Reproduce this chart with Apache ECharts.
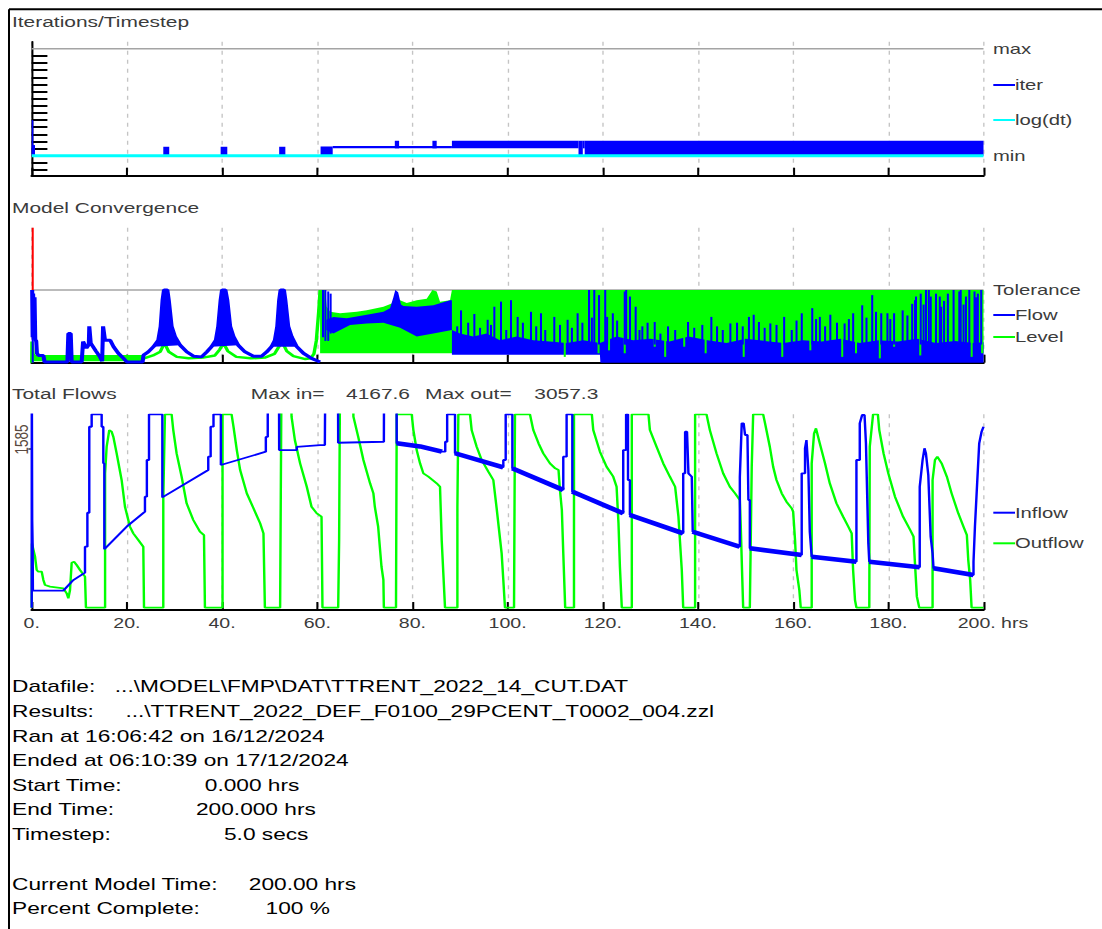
<!DOCTYPE html>
<html><head><meta charset="utf-8">
<script src="https://cdn.jsdelivr.net/npm/echarts@6.0.0/dist/echarts.min.js"></script>
<style>
html,body{margin:0;padding:0;background:#fff;overflow:hidden;width:1102px;height:929px}
#chart{width:816px;height:929px;transform:scaleX(1.3504902);transform-origin:0 0}
</style></head><body><div id="chart"></div><script>
// ---------------- data ----------------
const panelTitles = ['Iterations/Timestep', 'Model Convergence', 'Total Flows'];
const hoursRange = [0, 200, 20];
const iterLimits = [0, 15];                // min, max
const iterTicks = [-2,-1,0,1,2,3,4,5,6,7,8,9,10,11,12,13,14];
const logDt = [[0, 0], [200, 0]];
// [tStart, tEnd, low, high]
const iterBlocks = [
  [0, 0.3, 0, 5.0], [0, 0.7, 0, 1.5],
  [27.65, 28.9, 0, 1.26], [39.7, 41.1, 0, 1.26], [52.0, 53.3, 0, 1.26],
  [60.7, 63.25, 0, 1.3], [63.25, 88.3, 1.04, 1.36],
  [76.3, 77.2, 1.04, 2.1], [84.2, 85.1, 1.04, 2.1],
  [88.3, 114.9, 1.04, 2.1], [114.9, 115.8, 0, 2.1], [115.8, 116.2, 1.04, 2.1], [116.2, 200, 0, 2.1]
];

const tolerance = 1;
const flowEarly = [[0.1,1.0],[0.2,0.35],[0.3,0.95],[0.45,0.32],[0.6,0.9],[0.75,0.31],[0.95,0.3],[1.1,0.13],[1.4,0.1],[2.45,0.1],[2.7,0.01],[7.5,0.01],[7.7,0.4],[8.2,0.4],[8.4,0.01],[10.5,0.01],[10.8,0.29],[11.5,0.2],[12.0,0.25],[12.1,0.5],[12.4,0.27],[13.5,0.16],[14.35,0.08],[14.8,0.02],[15.0,0.5],[15.4,0.31],[16.5,0.31],[17.2,0.22],[18.2,0.13],[19.3,0.06],[20.0,0.01],[23.3,0.01],[23.5,0.105],[24.5,0.15],[25.6,0.22],[26.6,0.31],[27.1,0.5],[27.5,0.86],[27.8,1.0],[28.5,1.0],[28.8,0.86],[29.4,0.5],[30.1,0.36],[31.2,0.24],[32.6,0.15],[34.0,0.09],[35.7,0.08],[36.8,0.15],[37.8,0.22],[38.7,0.31],[39.2,0.5],[39.7,0.86],[40.0,1.0],[40.7,1.0],[41.1,0.86],[41.7,0.5],[42.4,0.36],[43.4,0.24],[44.8,0.15],[46.6,0.09],[48.3,0.09],[49.4,0.15],[50.4,0.22],[51.1,0.31],[51.6,0.5],[52.0,0.86],[52.3,1.0],[53.0,1.0],[53.3,0.86],[53.9,0.5],[54.6,0.36],[55.7,0.22],[57.1,0.13],[58.8,0.06],[60.6,0.01]];
const flowPeakSpans = [[25.6, 31.2], [37.8, 43.4], [50.4, 55.7]];
const levelEarly = [[0,0],[0.05,0.29],[0.3,0.12],[0.6,0.08],[7.2,0.06],[7.8,0.1],[8.4,0.05],[23.6,0.06],[25.5,0.1],[27.0,0.15],[27.9,0.27],[28.8,0.15],[30.5,0.08],[33,0.06],[36,0.07],[38.5,0.1],[39.5,0.18],[40.3,0.27],[41.2,0.16],[43,0.08],[46,0.06],[49,0.07],[51,0.12],[52.6,0.29],[53.6,0.16],[55,0.09],[57.5,0.05],[58.6,0.06],[59.3,0.12],[59.8,0.3],[60.3,0.7],[60.6,1.0]];
const levelBlocks = [[0.3, 23.6, 0.02, 0.105]];
const levelTop = [[60.6,1.0],[61.7,1.0],[62.0,0.77],[62.7,0.70],[64.8,0.68],[68.3,0.70],[70.4,0.72],[73.9,0.77],[77.4,0.86],[78.8,0.82],[80.9,0.86],[83.0,0.88],[84.2,1.0],[85.1,0.98],[85.8,0.84],[87.9,0.86],[88.3,1.0],[200,1.0]];
const levelBottom = [[60.6,0.13],[200,0.13]];
const flowBand1Top = [[61.9,0.59],[63.4,0.63],[66.2,0.61],[70.4,0.66],[73.9,0.70],[75.3,0.75],[76.0,0.9],[76.4,1.0],[77.0,0.97],[77.6,0.8],[78.1,0.78],[80.9,0.77],[84.4,0.79],[87.9,0.86],[88.3,0.86]];
const flowBand1Bottom = [[61.9,0.45],[63.4,0.40],[66.9,0.52],[70.4,0.54],[73.9,0.55],[77.4,0.48],[80.9,0.36],[84.4,0.40],[88.3,0.45]];
const flowBand2Top = [[88.3,0.45],[90,0.40],[92.8,0.36],[95.6,0.40],[98.4,0.31],[101.9,0.36],[105.4,0.31],[108.9,0.29],[112.4,0.27],[115.9,0.31],[119.4,0.27],[122.9,0.36],[126.4,0.31],[130,0.33],[134,0.29],[138,0.36],[142,0.31],[146,0.27],[150,0.33],[154,0.30],[158,0.27],[162,0.31],[166,0.29],[170,0.33],[174,0.27],[178,0.31],[182,0.29],[186,0.33],[190,0.27],[194,0.30],[198,0.27],[200,0.28]];
const flowBand2Bottom = [[88.3,0.11],[119.4,0.11],[119.5,0],[200,0]];
// [t, low, high]
const flowSpikes = [[0,0,1.857],[61.0,0.35,1.0],[61.5,0.3,1.0],[62.1,0.3,0.98],[62.6,0.4,0.95],
  [90.0,0.25,0.72],[92.8,0.25,0.67],[95.6,0.25,0.59],[97.0,0.25,0.77],[98.4,0.25,0.84],[100.5,0.25,0.86],[101.9,0.25,0.63],[104.7,0.25,0.70],[106.8,0.25,0.68],[109.6,0.25,0.63],[112.4,0.25,0.59],[114.5,0.25,0.68],[116.9,0.25,1.0],[118.0,0.25,1.0],[119.0,0.25,0.93],[120.3,0.25,1.0],[120.7,0.25,0.63],[121.9,0.25,0.68],[124.4,0.25,0.98],[124.7,0.25,1.0],[125.5,0.25,0.91],[126.7,0.25,0.77],[128.1,0.25,0.50],[130.7,0.25,0.56],[131.9,0.25,0.40],[137.7,0.25,0.56],[140.7,0.25,0.52],[142.6,0.25,0.63],[146.6,0.25,0.54],[150.5,0.25,0.63],[151.5,0.25,0.66],[152.6,0.25,0.56],[155.0,0.25,0.54],[157.9,0.25,0.63],[161.6,0.25,0.68],[163.8,0.25,0.75],[165.4,0.25,0.63],[167.6,0.25,0.66],[170.6,0.25,0.54],[172.4,0.25,0.68],[174.3,0.25,0.79],[176.4,0.25,0.93],[178.3,0.25,0.68],[179.6,0.25,0.68],[181.0,0.25,0.68],[182.8,0.25,0.72],[184.8,0.25,0.81],[185.4,0.25,0.86],[185.6,0.25,0.91],[186.6,0.25,0.95],[187.7,0.25,1.0],[188.3,0.25,1.0],[188.7,0.25,0.91],[189.8,0.25,0.95],[190.6,0.25,0.91],[190.9,0.25,0.77],[192.3,0.25,0.95],[193.5,0.25,1.0],[194.7,0.25,0.98],[195.0,0.25,1.0],[196.1,0.25,0.91],[196.8,0.25,1.0],[197.9,0.25,0.98],[198.6,0.25,0.95],[199.3,0.25,1.0],
  [89.2,0.25,0.5],[91.5,0.25,0.55],[94.0,0.25,0.48],[96.3,0.25,0.52],[99.5,0.25,0.45],[103.0,0.25,0.55],[105.8,0.25,0.5],[107.7,0.25,0.45],[110.8,0.25,0.52],[113.3,0.25,0.48],[115.5,0.25,0.55],[117.5,0.25,0.62],[122.8,0.25,0.58],[127.5,0.25,0.45],[129.2,0.25,0.55],[133.5,0.25,0.5],[135.0,0.25,0.45],[139.0,0.25,0.48],[143.8,0.25,0.5],[145.0,0.25,0.45],[148.0,0.25,0.55],[149.2,0.25,0.5],[153.8,0.25,0.48],[156.3,0.25,0.52],[159.5,0.25,0.45],[160.5,0.25,0.58],[164.6,0.25,0.6],[166.5,0.25,0.5],[169.0,0.25,0.55],[171.5,0.25,0.6],[175.2,0.25,0.62],[177.2,0.25,0.7],[180.2,0.25,0.6],[183.8,0.25,0.65],[187.2,0.25,0.8],[191.5,0.25,0.85],[195.6,0.25,0.8],[198.2,0.25,0.9]];
const levelSpikes = [[111.8,0.08,0.4],[118.9,0.13,0.4],[121.1,0.17,0.4],[124.4,0.13,0.4],[130.7,0.22,0.4],[132.9,0.08,0.4],[136.9,0.22,0.4],[141.4,0.13,0.4],[149.4,0.08,0.4],[157.5,0.08,0.4],[163.4,0.17,0.4],[170.1,0.08,0.4],[173.0,0.13,0.4],[178.0,0.06,0.4],[181.0,0.22,0.4],[186.5,0.1,0.4],[197.3,0.08,0.4],[199.5,0.13,0.4]];

const flowRange = [-23, 1925];
const flowTickValues = [1585];
const maxIn = '4167.6', maxOut = '3057.3';
const inflow = [[0,0],[0.02,2400],[0.1,870],[0.2,610],[0.25,170],[6.65,170],[8.75,275],[11.2,349],[11.2,607],[11.7,607],[11.7,945],[12.1,945],[12.1,1801],[12.6,1801],[12.6,1925],[14.7,1925],[14.7,1801],[15.05,1801],[15.05,1437],[15.26,1437],[15.26,581],[19.95,806],[23.8,956],[23.8,1105],[24.2,1105],[24.2,1470],[24.65,1470],[24.65,1925],[27.45,1925],[27.45,1098],[37.1,1371],[37.1,1503],[37.6,1503],[37.6,1802],[38.2,1802],[38.2,1925],[39.75,1925],[39.75,1420],[49.2,1553],[49.2,1700],[49.6,1700],[49.6,1901],[49.7,2400],[51.95,2400],[52.0,1569],[55.7,1569],[55.7,1600],[60.6,1619],[61.6,1619],[61.7,2400],[64.35,2400],[64.4,1642],[74.0,1652],[74.05,2400],[76.65,2400],[76.7,1636],[81.6,1605],[86.2,1553],[86.9,1553],[86.9,1652],[87.3,1652],[87.3,1925],[88.95,1925],[88.95,1537],[99.1,1397],[99.1,1470],[99.6,1470],[99.6,1925],[101.0,1925],[101.0,1387],[111.7,1172],[111.7,1503],[112.4,1503],[112.4,1925],[113.6,1925],[113.6,1155],[124.3,939],[124.3,1569],[124.9,1569],[124.9,1925],[125.3,1925],[125.3,1271],[125.7,1271],[125.7,923],[136.9,740],[136.9,1337],[137.3,1337],[137.3,1752],[137.7,1752],[138.0,1337],[138.7,1304],[138.9,756],[148.8,607],[148.8,1300],[149.2,1835],[149.6,1835],[149.9,1719],[150.4,1719],[150.6,1072],[150.9,1072],[150.9,591],[161.8,525],[161.8,1337],[162.5,1337],[162.5,1587],[162.8,1669],[163.2,1370],[163.5,757],[163.9,508],[173.3,458],[173.3,1470],[174.0,1470],[174.0,1835],[174.5,1918],[175.0,1918],[175.3,1636],[175.8,640],[176.0,458],[186.6,402],[186.6,1204],[187.2,1470],[187.6,1587],[187.9,1536],[188.4,1321],[188.9,707],[189.3,541],[189.5,392],[197.9,325],[197.9,458],[198.2,806],[198.7,1271],[199.1,1636],[199.6,1752],[200,1802]];
const inflowBands = [[[76.7,1636],[81.6,1605],[86.2,1553]],[[88.95,1537],[99.1,1397]],[[101.0,1387],[111.7,1172]],[[113.6,1155],[124.3,939]],[[125.7,923],[136.9,740]],[[138.9,756],[148.8,607]],[[150.9,591],[161.8,525]],[[163.9,508],[173.3,458]],[[176.0,458],[186.6,402]],[[189.5,392],[197.9,325]]];
const outflow = [[0,0],[0.05,640],[0.7,508],[1.05,375],[1.4,358],[2.1,358],[2.45,276],[2.8,226],[3.85,210],[6.65,192],[7.35,143],[7.7,93],[8.05,176],[8.4,448],[8.9,458],[9.45,425],[10.15,375],[11.2,309],[11.4,0],
[15.42,0],[15.42,1337],[15.75,1602],[16.3,1768],[16.8,1752],[17.15,1702],[17.85,1536],[18.9,1271],[19.6,1005],[20.65,806],[21.35,740],[22.4,674],[23.45,607],[23.6,0],
[27.65,0],[27.65,1089],[28.0,1925],[29.4,1925],[29.75,1768],[30.45,1536],[31.5,1304],[32.55,1039],[33.95,873],[35.35,757],[36.2,723],[36.4,0],
[40.1,0],[40.1,1925],[42.0,1925],[42.4,1802],[43.1,1569],[43.8,1370],[45.2,1138],[46.6,989],[48.0,840],[48.7,740],[49.0,0],
[52.2,0],[52.5,2400],[54.5,2400],[54.6,1901],[55.3,1669],[56.4,1437],[57.8,1204],[58.8,1005],[59.9,939],[60.9,906],[61.1,0],
[64.4,0],[64.6,674],[64.8,2400],[67.5,2400],[67.6,1901],[68.6,1702],[69.7,1470],[71.1,1238],[71.8,1138],[72.1,1005],[72.8,806],[73.5,408],[73.9,276],[74.0,0],
[76.55,0],[76.7,1925],[79.85,1925],[80.2,1768],[80.9,1569],[81.6,1437],[82.3,1337],[83.35,1304],[85.1,1238],[85.8,1204],[86.15,674],[86.85,0],
[89.45,0],[89.45,1005],[89.65,1925],[92.1,1925],[92.45,1768],[93.5,1602],[94.55,1470],[95.95,1354],[97.0,1271],[97.7,989],[98.75,541],[99.1,276],[99.45,0],
[101.35,0],[101.55,1925],[104.7,1925],[105.4,1768],[106.5,1636],[107.5,1536],[108.9,1437],[110.0,1387],[110.7,1370],[111.0,1172],[111.4,972],[111.7,541],[112.1,0],
[113.95,0],[113.95,1925],[117.7,1925],[118.0,1768],[119.4,1553],[120.8,1403],[122.2,1304],[122.9,1204],[123.3,840],[123.6,408],[124.0,0],
[126.1,0],[126.1,1925],[129.6,1925],[129.9,1768],[131.3,1602],[132.7,1437],[134.1,1304],[135.2,1204],[135.9,906],[136.6,375],[136.9,0],
[139.4,0],[139.4,1925],[141.8,1925],[142.5,1768],[143.9,1536],[145.3,1337],[146.7,1204],[147.8,1138],[148.8,1072],[149.0,800],[149.3,309],[149.5,0],
[150.9,0],[151.3,1403],[151.6,1925],[153.7,1925],[154.1,1835],[155.1,1602],[155.8,1403],[156.5,1271],[157.6,1138],[158.6,1055],[159.7,989],[160.0,956],[160.4,674],[160.7,375],[161.3,176],[161.6,0],
[163.9,0],[163.9,1437],[164.4,1735],[164.8,1785],[165.0,1785],[165.6,1636],[166.7,1437],[167.7,1238],[169.1,1039],[170.5,906],[171.6,806],[172.3,740],[172.6,375],[173.0,76],[173.3,0],
[176.0,0],[176.1,1602],[176.8,1925],[177.8,1925],[178.1,1768],[179.0,1536],[180.0,1337],[181.4,1105],[183.1,906],[184.6,773],[185.3,707],[185.6,441],[186.0,110],[186.5,0],
[189.3,0],[189.3,1271],[189.8,1470],[190.3,1503],[190.5,1503],[191.2,1437],[192.3,1304],[193.3,1138],[194.7,939],[195.8,806],[196.5,723],[196.8,474],[197.2,276],[197.5,0],[200,0]];

const infoLabels = ['Datafile:', 'Results:', 'Ran at 16:06:42 on 16/12/2024', 'Ended at 06:10:39 on 17/12/2024', 'Start Time:', 'End Time:', 'Timestep:', 'Current Model Time:', 'Percent Complete:'];
const infoValues = ['...\\MODEL\\FMP\\DAT\\TTRENT_2022_14_CUT.DAT', '...\\TTRENT_2022_DEF_F0100_29PCENT_T0002_004.zzl', '', '', '0.000 hrs', '200.000 hrs', '5.0 secs', '200.00 hrs', '100 %'];

// ---------------- layout & styles ----------------
const K = 1102 / 816;            // the picture is horizontally stretched
const X = v => v / K;
const FONT = '"Liberation Sans", Arial, sans-serif';
const TXT = '#3b3b3b';
const BLUE = '#0000ff', GREEN = '#00ff00', CYAN = '#00ffff', RED = '#ff0000';
const GL = X(31.7), GW = X(983.5) - X(31.7);

function rectRender(params, api) {
  const a = api.coord([api.value(0), api.value(3)]);
  const b = api.coord([api.value(1), api.value(2)]);
  return {type: 'rect', shape: {x: a[0], y: a[1], width: Math.max(b[0] - a[0], 1.2), height: b[1] - a[1]}, style: {fill: api.visual('color')}};
}
function bandRender(top, bottom) {
  return function (params, api) {
    const pts = top.map(p => api.coord(p)).concat(bottom.slice().reverse().map(p => api.coord(p)));
    return {type: 'polygon', shape: {points: pts}, style: {fill: api.visual('color')}};
  };
}
function peakRender(params, api) {
  const a = api.value(0), b = api.value(1);
  const pts = flowEarly.filter(p => p[0] >= a && p[0] <= b).map(p => api.coord(p));
  return {type: 'polygon', shape: {points: pts}, style: {fill: api.visual('color')}};
}
function spikeRender(w, limit, overColor) {
  return function (params, api) {
    const t = api.value(0), lo = api.value(1), hi = api.value(2);
    const c = api.visual('color');
    const pTop = api.coord([t, hi]), pBot = api.coord([t, lo]);
    if (limit != null && hi > limit) {
      const pm = api.coord([t, limit]);
      return {type: 'group', children: [
        {type: 'rect', shape: {x: pBot[0], y: pm[1], width: w, height: pBot[1] - pm[1]}, style: {fill: c}},
        {type: 'rect', shape: {x: pBot[0], y: pTop[1], width: w, height: pm[1] - pTop[1]}, style: {fill: overColor}}
      ]};
    }
    return {type: 'rect', shape: {x: pBot[0], y: pTop[1], width: w, height: pBot[1] - pTop[1]}, style: {fill: c}};
  };
}

function xAxisCfg(idx, withLabels) {
  const a = {
    type: 'value', gridIndex: idx, min: hoursRange[0], max: hoursRange[1], interval: hoursRange[2],
    axisLine: {onZero: false, lineStyle: {color: '#000', width: 2}},
    axisTick: {inside: true, length: 8, lineStyle: {color: '#000', width: 1.5}},
    splitLine: {show: true, lineStyle: {color: '#c4c4c4', width: 1, type: [4, 5]}},
    axisLabel: {show: false}
  };
  if (withLabels) {
    a.axisLabel = {show: true, margin: 5, color: TXT, fontFamily: FONT, fontSize: 14.5,
      formatter: v => v === hoursRange[1] ? '{m|' + v + '.}' : v + '.',
      rich: {m: {fontFamily: FONT, fontSize: 14.5, color: TXT, padding: [0, 10, 0, 0]}}};
    a.name = 'hrs'; a.nameLocation = 'end'; a.nameGap = X(993) - X(983.5);
    a.nameTextStyle = {color: TXT, fontFamily: FONT, fontSize: 14.5, verticalAlign: 'top', padding: [5, 0, 0, 0]};
  }
  return a;
}
const hidden = {axisLine: {show: false}, axisTick: {show: false}, axisLabel: {show: false}, splitLine: {show: false}};
const rightLbl = {color: TXT, fontFamily: FONT, fontSize: 15, margin: X(993) - X(983.5)};

const noSym = {symbol: 'none', silent: true};
const series = [
  // ---- iterations ----
  {type: 'line', xAxisIndex: 0, yAxisIndex: 0, data: [[hoursRange[0], iterLimits[1]], [hoursRange[1], iterLimits[1]]], lineStyle: {color: '#a4a4a4', width: 1.5}, z: 1, ...noSym},
  {type: 'custom', name: 'iter', xAxisIndex: 0, yAxisIndex: 0, data: iterBlocks, encode: {x: [0, 1], y: [2, 3]}, renderItem: rectRender, itemStyle: {color: BLUE}, z: 2, silent: true},
  {type: 'line', name: 'log(dt)', xAxisIndex: 0, yAxisIndex: 0, data: logDt, lineStyle: {color: CYAN, width: 3}, itemStyle: {color: CYAN}, z: 3, ...noSym},
  // ---- convergence ----
  {type: 'line', xAxisIndex: 1, yAxisIndex: 2, data: [[hoursRange[0], tolerance], [hoursRange[1], tolerance]], lineStyle: {color: '#a4a4a4', width: 1.5}, z: 1, ...noSym},
  {type: 'custom', name: 'Level', xAxisIndex: 1, yAxisIndex: 2, data: levelBlocks, encode: {x: [0, 1], y: [2, 3]}, renderItem: rectRender, itemStyle: {color: GREEN}, z: 2, silent: true},
  {type: 'line', name: 'Level', xAxisIndex: 1, yAxisIndex: 2, data: levelEarly, lineStyle: {color: GREEN, width: 2.5}, itemStyle: {color: GREEN}, z: 2, ...noSym},
  {type: 'custom', name: 'Level', xAxisIndex: 1, yAxisIndex: 2, data: [[100, 0.5]], renderItem: bandRender(levelTop, levelBottom), itemStyle: {color: GREEN}, z: 2, silent: true},
  {type: 'custom', name: 'Flow', xAxisIndex: 1, yAxisIndex: 2, data: [[75, 0.5]], renderItem: bandRender(flowBand1Top, flowBand1Bottom), itemStyle: {color: BLUE}, z: 3, silent: true},
  {type: 'custom', name: 'Flow', xAxisIndex: 1, yAxisIndex: 2, data: [[150, 0.2]], renderItem: bandRender(flowBand2Top, flowBand2Bottom), itemStyle: {color: BLUE}, z: 3, silent: true},
  {type: 'custom', name: 'Level', xAxisIndex: 1, yAxisIndex: 2, data: levelSpikes, encode: {x: 0, y: [1, 2]}, renderItem: spikeRender(1.5), itemStyle: {color: GREEN}, z: 4, silent: true},
  {type: 'custom', name: 'Flow', xAxisIndex: 1, yAxisIndex: 2, data: flowSpikes, encode: {x: 0, y: [1, 2]}, renderItem: spikeRender(1.5, tolerance, RED), itemStyle: {color: BLUE}, z: 5, silent: true},
  {type: 'custom', name: 'Flow', xAxisIndex: 1, yAxisIndex: 2, data: flowPeakSpans, encode: {x: [0, 1]}, renderItem: peakRender, itemStyle: {color: BLUE}, z: 5, silent: true},
  {type: 'line', name: 'Flow', xAxisIndex: 1, yAxisIndex: 2, data: flowEarly, lineStyle: {color: BLUE, width: 3}, itemStyle: {color: BLUE}, z: 5, ...noSym},
  // ---- flows ----
  {type: 'line', name: 'Outflow', xAxisIndex: 2, yAxisIndex: 4, data: outflow, lineStyle: {color: GREEN, width: 1.8}, itemStyle: {color: GREEN}, z: 2, ...noSym},
  {type: 'line', name: 'Inflow', xAxisIndex: 2, yAxisIndex: 4, data: inflow, lineStyle: {color: BLUE, width: 1.8}, itemStyle: {color: BLUE}, z: 3, ...noSym}
].concat(inflowBands.map(seg => ({type: 'line', name: 'Inflow', xAxisIndex: 2, yAxisIndex: 4, data: seg, lineStyle: {color: BLUE, width: 4.5}, itemStyle: {color: BLUE}, z: 3, ...noSym})));

function legendCfg(names, top, gap) {
  return {data: names, orient: 'vertical', left: X(993.3), top: top, padding: 0, itemWidth: X(21.7), itemHeight: 2, itemGap: gap,
    icon: 'rect', selectedMode: false, textStyle: {color: TXT, fontFamily: FONT, fontSize: 15, lineHeight: 16, padding: [0, 0, 0, -5]}};
}

const texts = [];
const titleY = [21.7, 207.3, 393.3];
panelTitles.forEach((t, i) => texts.push({type: 'text', x: X(12), y: titleY[i], style: {text: t, fill: TXT, fontFamily: FONT, fontSize: 15.5, verticalAlign: 'middle'}}));
texts.push({type: 'text', x: X(250.7), y: 393.3, style: {text: 'Max in=', fill: TXT, fontFamily: FONT, fontSize: 15.5, verticalAlign: 'middle'}});
texts.push({type: 'text', x: X(410), y: 393.3, style: {text: maxIn, fill: TXT, fontFamily: FONT, fontSize: 15.5, verticalAlign: 'middle', align: 'right'}});
texts.push({type: 'text', x: X(425), y: 393.3, style: {text: 'Max out=', fill: TXT, fontFamily: FONT, fontSize: 15.5, verticalAlign: 'middle'}});
texts.push({type: 'text', x: X(598.3), y: 393.3, style: {text: maxOut, fill: TXT, fontFamily: FONT, fontSize: 15.5, verticalAlign: 'middle', align: 'right'}});
const infoY = [686, 711.5, 736, 760, 785, 809, 834, 884, 908.5];
const infoVX = [114.8, 125.4, 0, 0, 204.8, 196, 224, 248.8, 265.6];
infoLabels.forEach((t, i) => {
  texts.push({type: 'text', x: X(12), y: infoY[i], style: {text: t, fill: '#000', fontFamily: FONT, fontSize: 16.8, verticalAlign: 'middle'}});
  if (infoValues[i]) texts.push({type: 'text', x: X(infoVX[i]), y: infoY[i], style: {text: infoValues[i], fill: '#000', fontFamily: FONT, fontSize: 16.8, verticalAlign: 'middle'}});
});
texts.push({type: 'line', shape: {x1: X(9), y1: 9.3, x2: 816, y2: 9.3}, style: {stroke: '#000', lineWidth: 2}});
texts.push({type: 'line', shape: {x1: X(9), y1: 9.3, x2: X(9), y2: 929}, style: {stroke: '#000', lineWidth: 2 / K}});

const option = {
  animation: false,
  backgroundColor: '#fff',
  grid: [
    {left: GL, top: 41.7, width: GW, height: 134},
    {left: GL, top: 227.7, width: GW, height: 135},
    {left: GL, top: 414.3, width: GW, height: 195.7}
  ],
  xAxis: [xAxisCfg(0, false), xAxisCfg(1, false), xAxisCfg(2, true)],
  yAxis: [
    {type: 'value', gridIndex: 0, min: -2.8, max: 16, axisLine: {show: true, lineStyle: {color: '#000', width: 1.5}},
      axisTick: {show: true, inside: true, length: X(15.7), customValues: iterTicks, lineStyle: {color: '#000', width: 2}},
      axisLabel: {show: false}, splitLine: {show: false}},
    {type: 'value', gridIndex: 0, position: 'right', min: -2.8, max: 16, ...hidden,
      axisLabel: {show: true, customValues: iterLimits, formatter: v => v === iterLimits[1] ? 'max' : 'min', ...rightLbl}},
    {type: 'value', gridIndex: 1, min: 0, max: 1.857, ...hidden},
    {type: 'value', gridIndex: 1, position: 'right', min: 0, max: 1.857, ...hidden,
      axisLabel: {show: true, customValues: [tolerance], formatter: () => 'Tolerance', ...rightLbl}},
    {type: 'value', gridIndex: 2, min: flowRange[0], max: flowRange[1], axisLine: {show: false}, splitLine: {show: false},
      axisTick: {show: true, inside: false, length: 2.5, customValues: flowTickValues, lineStyle: {color: '#333', width: 1.5}},
      axisLabel: {show: true, customValues: flowTickValues, formatter: v => String(v), rotate: 90, margin: 1, color: '#5a4a40', fontFamily: FONT, fontSize: 13.5, padding: [0, 0, 0, 18]}}
  ],
  legend: [
    legendCfg(['iter', 'log(dt)'], 77, 19),
    legendCfg(['Flow', 'Level'], 307, 6),
    legendCfg(['Inflow', 'Outflow'], 504.7, 14.6)
  ],
  graphic: {elements: texts},
  series: series
};
const chart = echarts.init(document.getElementById('chart'), null, {renderer: 'svg'});
chart.setOption(option);
</script></body></html>
